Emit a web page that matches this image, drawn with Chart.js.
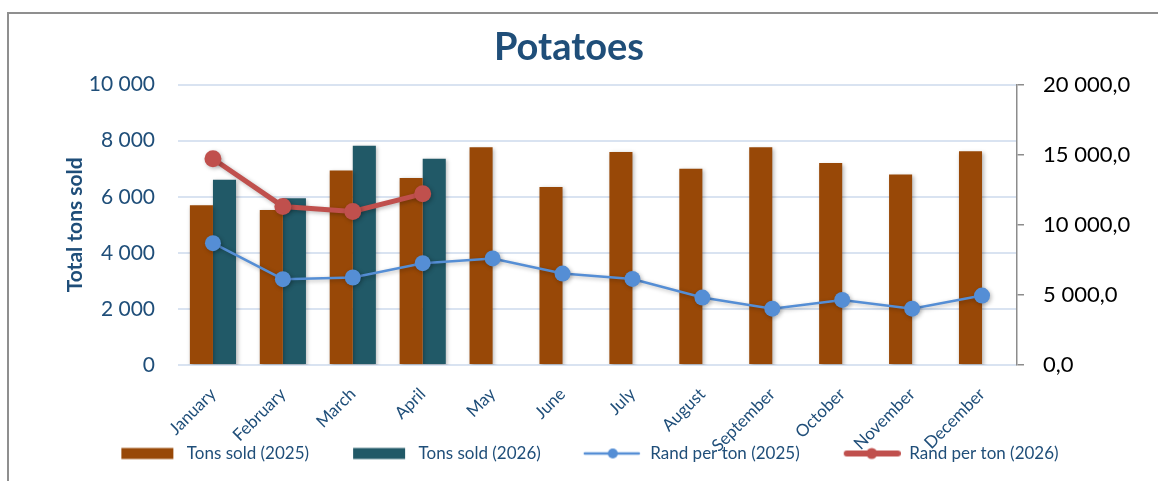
<!DOCTYPE html>
<html>
<head>
<meta charset="utf-8">
<script src="https://cdn.jsdelivr.net/npm/chart.js@4.4.1/dist/chart.umd.min.js"></script>
<style>
  html, body { margin: 0; padding: 0; background: #fff; }
  #wrap { position: relative; width: 1158px; height: 481px; overflow: hidden; }
  #frame { position: absolute; left: 7px; top: 12px; right: -10px; bottom: -10px;
           border-top: 2px solid #8f8f8f; border-left: 2px solid #8f8f8f; }
  #chart { position: absolute; left: 0; top: 0; }
</style>
</head>
<body>
<div id="wrap">
  <div id="frame"></div>
  <canvas id="chart" width="1158" height="481"></canvas>
</div>
<script>
// Potatoes: tons sold per month (bars, left axis) and rand per ton (lines, right axis)

const months = ["January", "February", "March", "April", "May", "June",
  "July", "August", "September", "October", "November", "December"];
const tons2025 = [5700, 5530, 6940, 6670, 7770, 6350, 7600, 7000, 7770, 7200, 6790, 7620];
const tons2026 = [6610, 5950, 7820, 7360];
const rand2025 = [8690, 6120, 6240, 7260, 7600, 6520, 6140, 4810, 4020, 4640, 4020, 4950];
const rand2026 = [14710, 11310, 10950, 12210];

const INK = "#1f4e79";
const ORANGE = "#984807";
const TEAL = "#215967";
const BLUE = "#558ed5";
const RED = "#c0504d";
const GRID = "#d9e3f1";
const FONT = 'Lato, "Open Sans", sans-serif';

function spaced(n) {
  return String(n).replace(/\B(?=(\d{3})+(?!\d))/g, " ");
}

// legend swatches: a blank lead-in keeps the items apart, since the
// legend's own padding would also push the row down into the month labels
const LEAD = 42;
function swatch(kind, color) {
  const c = document.createElement("canvas");
  c.width = LEAD + 57;
  c.height = 14;
  const g = c.getContext("2d");
  if (kind === "bar") {
    g.fillStyle = color;
    g.fillRect(LEAD, 1.5, 52, 11);
  } else {
    const thick = kind === "thick";
    g.strokeStyle = color;
    g.lineWidth = thick ? 6 : 2.5;
    g.lineCap = "round";
    g.beginPath();
    g.moveTo(LEAD + (thick ? 3 : 0), 7);
    g.lineTo(LEAD + 54, 7);
    g.stroke();
    g.fillStyle = color;
    g.beginPath();
    g.arc(LEAD + 28, 7, thick ? 5.5 : 5, 0, Math.PI * 2);
    g.fill();
  }
  return c;
}
const swatches = [swatch("bar", ORANGE), swatch("bar", TEAL), swatch("line", BLUE), swatch("thick", RED)];

const softShadow = {
  id: "softShadow",
  // the month labels hang a little into the legend row, as in the original
  afterLayout(chart) {
    chart.scales.x.bottom += 12;
  },
  beforeDatasetDraw(chart) {
    const ctx = chart.ctx;
    ctx.save();
    ctx.shadowColor = "rgba(0,0,0,0.28)";
    ctx.shadowBlur = 4;
    ctx.shadowOffsetX = 1.5;
    ctx.shadowOffsetY = 1.5;
  },
  afterDatasetDraw(chart) {
    chart.ctx.restore();
  },
};

new Chart(document.getElementById("chart"), {
  data: {
    labels: months,
    datasets: [
      { type: "bar", label: "Tons sold (2025)", data: tons2025, backgroundColor: ORANGE,
        yAxisID: "y", order: 2, categoryPercentage: 0.66, barPercentage: 1.0 },
      { type: "bar", label: "Tons sold (2026)", data: tons2026, backgroundColor: TEAL,
        yAxisID: "y", order: 2, categoryPercentage: 0.66, barPercentage: 1.0 },
      { type: "line", label: "Rand per ton (2025)", data: rand2025, borderColor: BLUE,
        backgroundColor: BLUE, borderWidth: 2.5, pointRadius: 8, pointHoverRadius: 8,
        pointBorderWidth: 0, tension: 0, yAxisID: "y1", order: 1 },
      { type: "line", label: "Rand per ton (2026)", data: rand2026, borderColor: RED,
        backgroundColor: RED, borderWidth: 5, pointRadius: 8.5, pointHoverRadius: 8.5,
        pointBorderWidth: 0, tension: 0, yAxisID: "y1", order: 1 },
    ],
  },
  options: {
    responsive: false,
    animation: false,
    layout: { padding: { left: 0, right: 20, top: 0, bottom: 9 } },
    plugins: {
      title: {
        display: true,
        text: "Potatoes",
        color: INK,
        font: { family: FONT, size: 38, weight: "bold" },
        padding: { top: 25, bottom: 14 },
      },
      legend: {
        position: "bottom",
        labels: {
          color: INK,
          font: { family: FONT, size: 17 },
          usePointStyle: true,
          pointStyleWidth: LEAD + 57,
          padding: 2,
          sort: (a, b) => a.datasetIndex - b.datasetIndex,
          generateLabels(chart) {
            const items = Chart.defaults.plugins.legend.labels.generateLabels(chart);
            items.forEach(it => { it.pointStyle = swatches[it.datasetIndex]; });
            return items;
          },
        },
      },
      tooltip: { enabled: false },
    },
    scales: {
      x: {
        grid: { display: false },
        border: { display: false },
        ticks: {
          color: INK,
          font: { family: FONT, size: 17 },
          maxRotation: 45,
          minRotation: 45,
          autoSkip: false,
          padding: 11,
        },
        afterFit(scale) { scale.height = 78; },
      },
      y: {
        position: "left",
        min: 0,
        max: 10000,
        ticks: {
          stepSize: 2000,
          color: INK,
          font: { family: FONT, size: 21 },
          padding: 23,
          callback: v => spaced(v),
        },
        grid: { color: GRID, lineWidth: 2, drawTicks: false },
        border: { display: false },
        title: {
          display: true,
          text: "Total tons sold",
          color: INK,
          font: { family: FONT, size: 21, weight: "bold" },
          padding: { top: 63, bottom: 0 },
        },
        afterFit(scale) { scale.width = 178; },
      },
      y1: {
        position: "right",
        min: 0,
        max: 20000,
        ticks: {
          stepSize: 5000,
          color: "#000",
          font: { family: FONT, size: 22 },
          padding: 19,
          callback: v => {
            const [a, b] = v.toFixed(1).split(".");
            return spaced(a) + "," + b;
          },
        },
        grid: { drawOnChartArea: false, color: "#8c8c8c", lineWidth: 1.5, tickLength: 7 },
        border: { display: true, color: "#8c8c8c", width: 1.5 },
        afterFit(scale) { scale.width = 121; },
      },
    },
  },
  plugins: [softShadow],
});
</script>
</body>
</html>
